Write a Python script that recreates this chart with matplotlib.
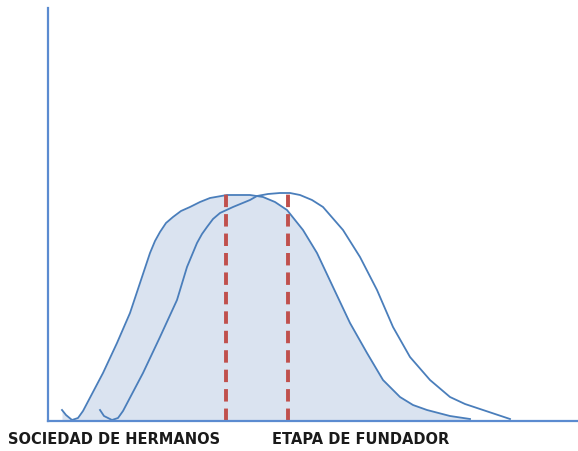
import matplotlib.pyplot as plt

# curva 1 (sociedad de hermanos)
x_hermanos = [62, 66, 72, 78, 83, 103, 117, 130, 140, 150, 155, 160, 166, 173, 181, 190, 200, 210, 227,
              250, 263, 275, 287, 303, 317, 333, 350, 367, 383, 400, 413, 427, 450, 470]
y_hermanos = [11, 6, 1, 3, 10, 48, 78, 108, 138, 168, 180, 189, 198, 204, 210, 214, 219, 223, 226,
              226, 224, 219, 211, 191, 168, 134, 98, 68, 41, 24, 16, 11, 5, 2]

# curva 2 (etapa de fundador)
x_fundador = [100, 104, 112, 118, 123, 143, 160, 177, 187, 197, 202, 207, 213, 220, 233, 250, 257,
              268, 280, 290, 300, 312, 323, 343, 360, 377, 393, 410, 430, 450, 465, 483, 510]
y_fundador = [11, 5, 1, 3, 10, 48, 84, 121, 154, 178, 187, 194, 202, 208, 214, 221, 225,
              227, 228, 228, 226, 221, 214, 191, 164, 131, 94, 64, 41, 24, 17, 11, 2]

# lineas de referencia (media de cada curva)
x_medias = [226, 288]
y_tope = 227

etiquetas = ['SOCIEDAD DE HERMANOS', 'ETAPA DE FUNDADOR']

azul = '#4a7ebb'

fig = plt.figure(figsize=(5.78, 4.51), dpi=100)
ax = fig.add_axes([48 / 578, 30 / 451, 530 / 578, 413 / 451])

ax.fill_between(x_hermanos, y_hermanos, 0, color='#dae3f0', lw=0)
ax.plot(x_hermanos, y_hermanos, color=azul, lw=1.3, solid_joinstyle='round')
ax.plot(x_fundador, y_fundador, color=azul, lw=1.3, solid_joinstyle='round')
for xm in x_medias:
    ax.vlines(xm, 0, y_tope, colors='#c0504d', lw=2.8, linestyles=(0, (3.2, 1.8)))

ax.set_xlim(48, 578)
ax.set_ylim(0, 413)
for s in ['top', 'right']:
    ax.spines[s].set_visible(False)
for s in ['left', 'bottom']:
    ax.spines[s].set_color('#5b8bd0')
    ax.spines[s].set_linewidth(1.6)
ax.set_xticks([])
ax.set_yticks([])

fig.text(8 / 578, 1 - 440 / 451, etiquetas[0], fontsize=10.5, fontweight='bold',
         family='DejaVu Sans', color='#1a1a1a', va='center', ha='left')
fig.text(272 / 578, 1 - 440 / 451, etiquetas[1], fontsize=10.5, fontweight='bold',
         family='DejaVu Sans', color='#1a1a1a', va='center', ha='left')

plt.savefig('out.png', dpi=100)
